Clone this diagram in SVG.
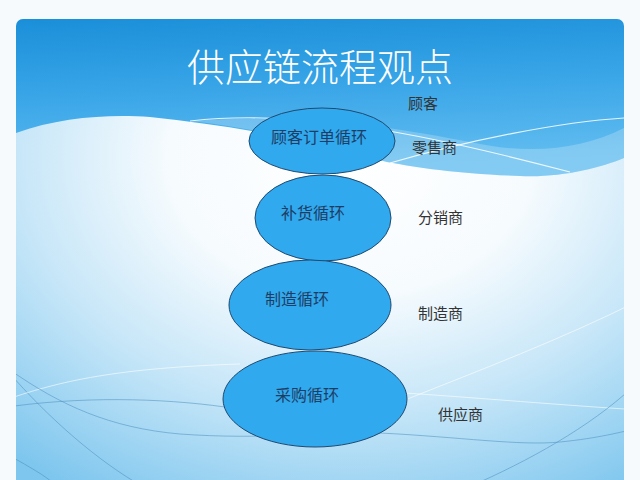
<svg xmlns="http://www.w3.org/2000/svg" width="640" height="480" viewBox="0 0 640 480">
  <style>
    .node ellipse { fill: #30a9ef; stroke: #1f4a70; stroke-width: 1; }
    .node text { font-family: "Noto Sans CJK SC", "Noto Sans", sans-serif; font-size: 16px; fill: #1f3d63; text-anchor: middle; }
    .lbl { font-family: "Noto Sans CJK SC", "Noto Sans", sans-serif; font-size: 15px; fill: #333333; }
    .title { font-family: "Noto Sans CJK SC", "Noto Sans", sans-serif; font-size: 38px; fill: #ffffff; text-anchor: middle; font-weight: 300; }
    .wl { fill: none; stroke: #ffffff; stroke-width: 1.2; opacity: 0.85; }
    .bl { fill: none; stroke: #4f8fbf; stroke-width: 1; opacity: 0.55; }
    .bl2 { fill: none; stroke: #ffffff; stroke-width: 1; opacity: 0.6; }
  </style>
  <defs>
    <clipPath id="panel">
      <rect x="16" y="19" width="608" height="480" rx="7"/>
    </clipPath>
    <radialGradient id="bottomGrad" cx="0.55" cy="0.3" r="0.85">
      <stop offset="0" stop-color="#ffffff"/>
      <stop offset="0.35" stop-color="#f6fbfe"/>
      <stop offset="0.65" stop-color="#c6e6f8"/>
      <stop offset="1" stop-color="#7ec6ee"/>
    </radialGradient>
    <linearGradient id="topGrad" x1="0" y1="0" x2="0.15" y2="1">
      <stop offset="0" stop-color="#1a8fd9"/>
      <stop offset="0.5" stop-color="#3aa6e8"/>
      <stop offset="1" stop-color="#62bdf0"/>
    </linearGradient>
  </defs>

  <rect x="0" y="0" width="640" height="480" fill="#f7fafc"/>

  <g id="background" clip-path="url(#panel)">
    <rect x="16" y="19" width="608" height="461" fill="url(#bottomGrad)"/>
    <path d="M16,19 H624 V158 C600,168 560,178 520,176 C460,174 420,168 387,162 L300,140 C250,130 200,122 150,117 C110,114 60,117 16,133 Z" fill="url(#topGrad)"/>
    <path d="M190,121 C300,112 400,128 470,142 C530,155 580,150 624,128 V158 C600,168 560,178 520,176 C460,174 420,168 387,162 L300,140 C260,131 220,124 190,121 Z" fill="#ffffff" opacity="0.22"/>
    <path class="wl" d="M190,121 C300,108 430,135 570,172"/>
    <path class="wl" d="M390,163 C470,140 560,122 624,118"/>
    <path class="bl" d="M0,362 C40,410 90,455 135,482"/>
    <path class="bl" d="M0,450 C20,462 40,472 52,482"/>
    <path class="bl" d="M0,408 C80,396 160,398 225,407"/>
    <path class="bl2" d="M0,402 C60,380 120,368 240,364"/>
    <path class="bl" d="M10,370 C60,405 110,428 180,434 C260,440 330,432 380,433 C460,437 520,446 560,442 C600,438 620,432 640,428"/>
    <path class="bl2" d="M405,400 C480,370 560,340 640,300"/>
    <path class="bl2" d="M405,393 C480,398 560,405 640,410"/>
    <path class="bl" d="M480,482 C540,455 600,420 640,380"/>
  </g>

  <text class="title" x="320" y="81">供应链流程观点</text>

  <g id="connectors"></g>

  <g id="node-order" class="node">
    <ellipse cx="322" cy="141" rx="73" ry="33"/>
    <text x="319" y="143">顾客订单循环</text>
  </g>
  <g id="node-replenish" class="node">
    <ellipse cx="323" cy="218" rx="68" ry="43"/>
    <text x="313" y="219">补货循环</text>
  </g>
  <g id="node-manufacture" class="node">
    <ellipse cx="310" cy="305" rx="81" ry="45"/>
    <text x="297" y="305">制造循环</text>
  </g>
  <g id="node-procure" class="node">
    <ellipse cx="315" cy="399" rx="92" ry="48"/>
    <text x="307" y="401">采购循环</text>
  </g>

  <g id="labels">
    <text class="lbl" x="408" y="109">顾客</text>
    <text class="lbl" x="412" y="153">零售商</text>
    <text class="lbl" x="418" y="223">分销商</text>
    <text class="lbl" x="418" y="319">制造商</text>
    <text class="lbl" x="438" y="420">供应商</text>
  </g>
</svg>
